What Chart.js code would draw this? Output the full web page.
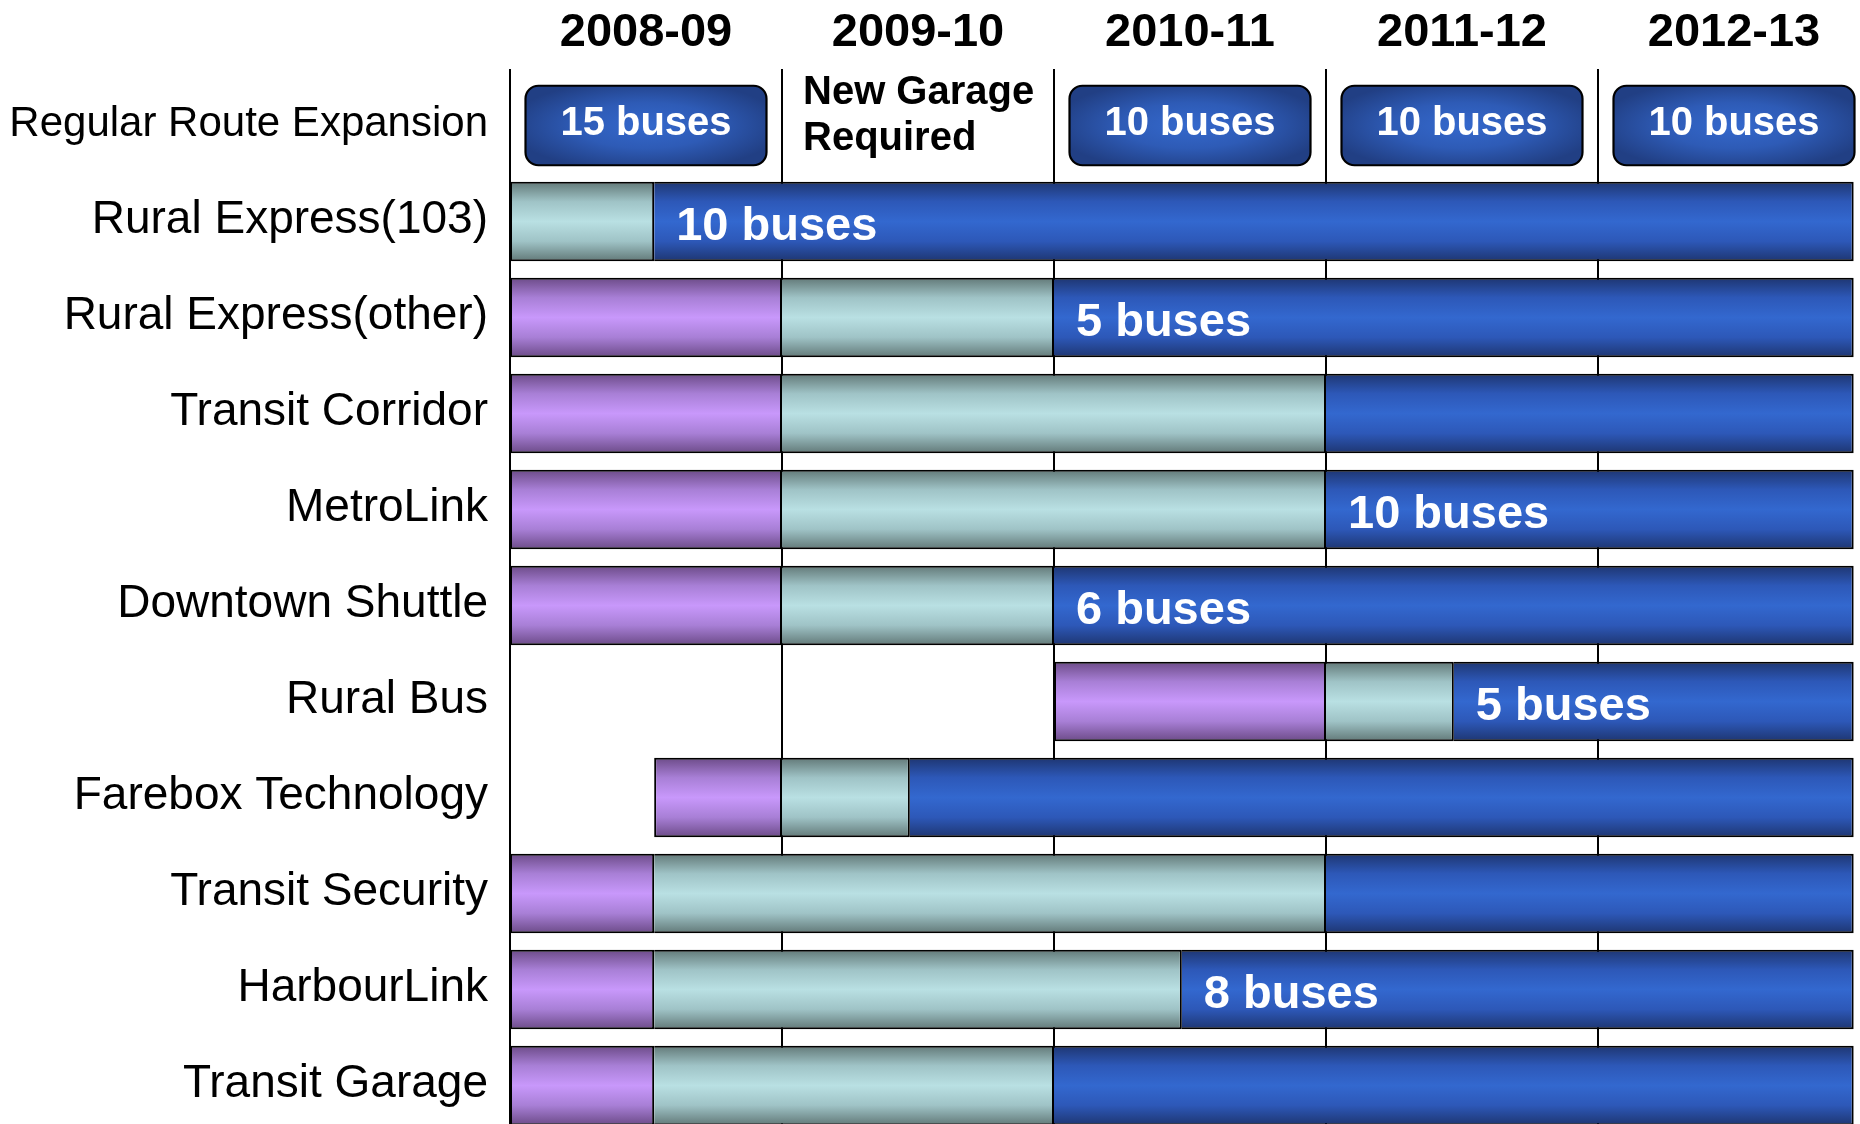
<!DOCTYPE html>
<html>
<head>
<meta charset="utf-8">
<script src="https://cdn.jsdelivr.net/npm/chart.js@4.4.1/dist/chart.umd.min.js"></script>
<style>
html,body{margin:0;padding:0;background:#fff;overflow:hidden}
#wrap{width:1860px;height:1124px;overflow:hidden;position:relative;background:#fff}
canvas{display:block}
</style>
</head>
<body>
<div id="wrap"><canvas id="c" width="1880" height="1140"></canvas></div>
<script>
// ---- data (x in fiscal-year units from the start of 2008-09) ----
const periods = ['2008-09', '2009-10', '2010-11', '2011-12', '2012-13'];
const rows = ['Regular Route Expansion', 'Rural Express(103)', 'Rural Express(other)', 'Transit Corridor',
  'MetroLink', 'Downtown Shuttle', 'Rural Bus', 'Farebox Technology', 'Transit Security', 'HarbourLink', 'Transit Garage'];
const planning  = [null, null, [0, 1], [0, 1], [0, 1], [0, 1], [2, 3], [0.53, 1], [0, 0.53], [0, 0.53], [0, 0.53]];
const design    = [null, [0, 0.53], [1, 2], [1, 3], [1, 3], [1, 2], [3, 3.47], [1, 1.47], [0.53, 3], [0.53, 2.47], [0.53, 2]];
const operation = [null, [0.53, 4.94], [2, 4.94], [3, 4.94], [3, 4.94], [2, 4.94], [3.47, 4.94], [1.47, 4.94], [3, 4.94], [2.47, 4.94], [2, 4.94]];
const operationLabels = [null, '10 buses', '5 buses', null, '10 buses', '6 buses', '5 buses', null, null, '8 buses', null];
const expansionBuses = ['15 buses', null, '10 buses', '10 buses', '10 buses'];
const expansionNote = ['New Garage', 'Required'];
const expansionNoteColumn = 1;

// ---- styling ----
const BAR_PCT = 0.828;
const FONT = '"Liberation Sans", Arial, Helvetica, sans-serif';
const series = [planning, design, operation];
const palettes = [
  ['#6c4b88', '#a87fd6', '#c898fb', '#a87fd6', '#6c4b88'],
  ['#627978', '#9fc3c6', '#b9e0e3', '#9fc3c6', '#627978'],
  ['#1e3672', '#2d58b8', '#3368cf', '#2d58b8', '#1e3672']
];

function bandHalf(y) {
  return (y.getPixelForValue(1) - y.getPixelForValue(0)) * BAR_PCT / 2;
}

function pipe(stops) {
  return (c) => {
    const ch = c.chart, y = ch.scales && ch.scales.y;
    if (!ch.chartArea || !y || c.dataIndex === undefined) return stops[2];
    const cy = y.getPixelForValue(c.dataIndex);
    const h = bandHalf(y);
    const g = ch.ctx.createLinearGradient(0, cy - h, 0, cy + h);
    [0, 0.25, 0.5, 0.75, 1].forEach((p, k) => g.addColorStop(p, stops[k]));
    return g;
  };
}

function borderFor(dsIndex) {
  return (c) => {
    let first = true;
    if (c.dataIndex !== undefined) {
      for (let d = 0; d < dsIndex; d++) if (series[d][c.dataIndex]) first = false;
    }
    return { top: 2, bottom: 2, right: 2, left: first ? 2 : 0 };
  };
}

const names = ['Planning', 'Design / Procurement', 'In Service'];
const datasets = series.map((s, d) => ({
  label: names[d],
  data: s,
  backgroundColor: pipe(palettes[d]),
  borderColor: '#000',
  borderWidth: borderFor(d),
  borderSkipped: false,
  grouped: false,
  categoryPercentage: 1,
  barPercentage: BAR_PCT
}));

const annot = {
  id: 'annot',
  afterDatasetsDraw(chart) {
    const { ctx, scales: { x, y } } = chart;
    const cy = y.getPixelForValue(0);
    const half = bandHalf(y);
    ctx.save();
    // expansion boxes
    expansionBuses.forEach((lab, i) => {
      if (!lab) return;
      const l = x.getPixelForValue(i) + 15.5, r = x.getPixelForValue(i + 1) - 15.5;
      const t = cy - half, b = cy + half;
      ctx.save();
      ctx.beginPath();
      ctx.roundRect(l, t, r - l, b - t, 13);
      ctx.save();
      ctx.clip();
      ctx.translate((l + r) / 2, (t + b) / 2);
      ctx.scale((r - l) / 2, (b - t) / 2);
      const g = ctx.createRadialGradient(0, 0, 0, 0, 0, 1.15);
      g.addColorStop(0, '#3468cc');
      g.addColorStop(0.5, '#2e5bb6');
      g.addColorStop(1, '#213f84');
      ctx.fillStyle = g;
      ctx.fillRect(-1.2, -1.2, 2.4, 2.4);
      ctx.restore();
      ctx.lineWidth = 2.2;
      ctx.strokeStyle = '#000';
      ctx.stroke();
      ctx.fillStyle = '#fff';
      ctx.font = 'bold 40px ' + FONT;
      ctx.textAlign = 'center';
      ctx.textBaseline = 'alphabetic';
      ctx.fillText(lab, (l + r) / 2, cy + 9.5);
      ctx.restore();
    });
    // garage note
    ctx.fillStyle = '#000';
    ctx.font = 'bold 40px ' + FONT;
    ctx.textAlign = 'left';
    ctx.textBaseline = 'alphabetic';
    const nx = x.getPixelForValue(expansionNoteColumn) + 21;
    ctx.fillText(expansionNote[0], nx, cy - 22);
    ctx.fillText(expansionNote[1], nx, cy + 24.5);
    // bus counts on the in-service bars
    const meta = chart.getDatasetMeta(2);
    ctx.fillStyle = '#fff';
    ctx.font = 'bold 47px ' + FONT;
    meta.data.forEach((el, i) => {
      const lab = operationLabels[i];
      if (!lab || !el) return;
      const left = Math.min(el.x, el.base);
      ctx.fillText(lab, left + 22, el.y + 18);
    });
    ctx.restore();
  }
};

new Chart(document.getElementById('c'), {
  type: 'bar',
  data: { labels: rows, datasets },
  options: {
    indexAxis: 'y',
    responsive: false,
    devicePixelRatio: 1,
    animation: false,
    events: [],
    layout: { padding: { left: 0, top: 0, right: 10, bottom: 6.5 } },
    plugins: { legend: { display: false }, tooltip: { enabled: false } },
    scales: {
      x: {
        type: 'linear',
        position: 'top',
        min: 0,
        max: 5,
        afterBuildTicks: (s) => { s.ticks = periods.map((_, i) => ({ value: i + 0.5 })); },
        ticks: {
          callback: (v, i) => periods[i],
          font: { family: FONT, weight: 'bold', size: 47 },
          color: '#000',
          padding: 7.5,
          maxRotation: 0,
          autoSkip: false
        },
        grid: { offset: true, color: '#000', lineWidth: 2, drawTicks: true, tickLength: 8.5, tickColor: '#000', tickWidth: 2 },
        border: { display: false },
        afterFit: (s) => { s.height = 77.5; s.paddingLeft = 0; s.paddingRight = 0; }
      },
      y: {
        type: 'category',
        position: 'left',
        offset: true,
        grid: { display: false, drawTicks: false },
        border: { display: true, color: '#000', width: 2 },
        ticks: {
          font: (c) => ({ family: FONT, size: c.index === 0 ? 42 : 46 }),
          color: '#000',
          padding: 22,
          labelOffset: -1.5,
          autoSkip: false
        },
        afterFit: (s) => { s.width = 510; s.paddingTop = 0; s.paddingBottom = 0; }
      }
    }
  },
  plugins: [annot]
});
</script>
</body>
</html>
